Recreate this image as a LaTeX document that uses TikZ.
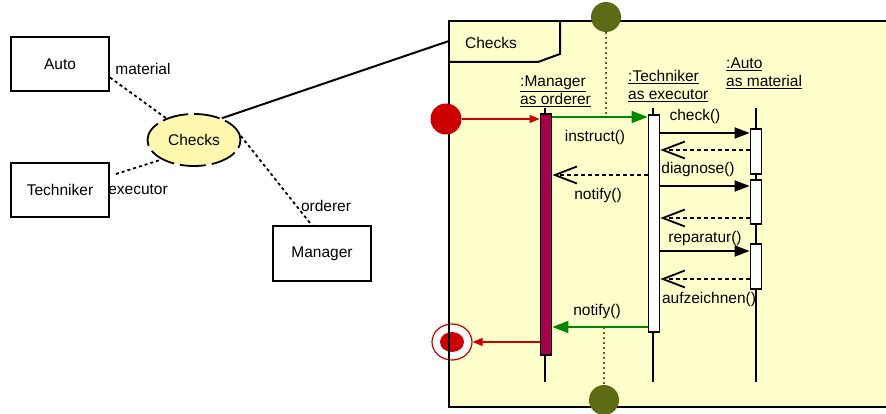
\documentclass[tikz,border=0pt]{standalone}
\usepackage{fontspec}
\setmainfont{Liberation Sans}
\usetikzlibrary{arrows.meta,shapes.geometric,positioning}
\definecolor{framefill}{HTML}{FFFFCC}
\definecolor{usecasefill}{HTML}{FFF7AE}
\definecolor{statered}{HTML}{CC0000}
\definecolor{msggreen}{HTML}{008800}
\definecolor{gateolive}{HTML}{5C6B14}
\definecolor{barred}{HTML}{A8004A}
\tikzset{
  txt/.style={font=\fontsize{15.5}{18}\selectfont,text=black,inner sep=0pt},
  classbox/.style={draw,line width=2pt,minimum width=98pt,minimum height=54pt,txt},
  role/.style={line width=1.8pt,dash pattern=on 3pt off 3pt},
  actbar/.style={draw,line width=1.8pt,minimum width=11pt,inner sep=0pt,anchor=north},
  lifeline/.style={line width=1.4pt},
  call/.style={line width=1.8pt,-{Triangle[length=15pt,width=11pt]}},
  reply/.style={line width=1.8pt,dash pattern=on 4pt off 3pt,-{Straight Barb[length=22pt,width=17pt]}},
  gatemsg/.style={msggreen,line width=1.8pt,-{Triangle[length=16pt,width=12pt]}},
  statemsg/.style={statered,line width=1.3pt,-{Triangle[length=10pt,width=8pt]}},
  gatelink/.style={gateolive,line width=1.4pt,dash pattern=on 2pt off 3pt}
}
\begin{document}
\begin{tikzpicture}[x=1pt,y=-1pt]
\useasboundingbox (0,0) rectangle (886,414);

% use case with its roles
\node[classbox] (auto) at (60,64.5) {Auto};
\node[classbox] (tech) at (60,190) {Techniker};
\node[classbox] (mgr) at (322,253.5) {Manager};
\node[ellipse,draw,fill=usecasefill,line width=1.8pt,dash pattern=on 26pt off 6pt,
      minimum width=93pt,minimum height=52pt,txt] (checks) at (194,140) {Checks};
\draw[role] ([yshift=-13pt]auto.east) -- (checks.142);
\draw[role] ([xshift=6pt,yshift=16pt]tech.east) -- (checks.211);
\draw[role] (checks.5) -- ([xshift=-10pt]mgr.north);
\node[txt] (lmat) at (143,69) {material};
\node[txt] (lexe) at (138,190) {executor};
\node[txt] (lord) at (326,206) {orderer};

% frame
\fill[framefill] (449,21) rectangle (886,407);
\node[ellipse,draw=statered,line width=1.2pt,fill=white,minimum width=40pt,minimum height=36pt,inner sep=0pt] (stop) at (452,342) {};
\node[ellipse,fill=statered,minimum width=24pt,minimum height=20pt,inner sep=0pt] (stopdot) at (stop) {};
\draw[line width=2pt] (886,21) -- (449,21) -- (449,407) -- (886,407);
\draw[line width=2pt] (560,21) -- (560,54) -- (538,62) -- (449,62);
\node[txt] (tab) at (491,43) {Checks};
\coordinate (framelink) at (449,41);
\draw[line width=2pt] (checks.38) -- (framelink);

% lifelines
\node[txt,align=left,anchor=north west] (mgrhead) at (520,76) {\underline{:Manager}\\\underline{as orderer}};
\node[txt,align=left,anchor=north west] (techhead) at (628,70) {\underline{:Techniker}\\\underline{as executor}};
\node[txt,align=left,anchor=north west] (autohead) at (726,58) {\underline{:Auto}\\\underline{as material}};
\foreach \x in {545,653,756}
{
    \draw[lifeline] (\x,108)--(\x,382);
}
\node[actbar,fill=barred,minimum height=241pt] (mbar) at (546,113) {};
\node[actbar,fill=white,minimum height=217pt] (tbar) at (654,114) {};
\foreach \i/\t/\h in {1/128/45,2/179/44,3/243/45}
{
    \node[actbar,fill=white,minimum height=\h pt] (abar\i) at (756,\t) {};
}

% messages
\node[circle,fill=statered,minimum size=31pt,inner sep=0pt] (start) at (446,119) {};
\draw[statemsg] (start.east) -- (mbar.west |- start.east);
\draw[gatemsg] (mbar.east |- 0,117) -- coordinate[pos=0.56] (inhit)
    node[txt,below=12pt,xshift=-5pt]{instruct()} (tbar.west |- 0,117);
\draw[call] (tbar.east |- 0,133) -- node[txt,above=8pt,xshift=-10pt]{check()} (abar1.west |- 0,133);
\draw[reply] (abar1.west |- 0,150) -- (tbar.east |- 0,150);
\draw[reply] (tbar.west |- 0,175) -- node[txt,below=12pt,xshift=-2pt]{notify()} (mbar.east |- 0,175);
\draw[call] (tbar.east |- 0,186) -- node[txt,above=8pt,xshift=-7pt]{diagnose()} (abar2.west |- 0,186);
\draw[reply] (abar2.west |- 0,218) -- (tbar.east |- 0,218);
\draw[call] (tbar.east |- 0,251) -- node[txt,above=4pt]{reparatur()} (abar3.west |- 0,251);
\draw[reply] (abar3.west |- 0,279) -- node[txt,below=12pt,xshift=4pt]{aufzeichnen()} (tbar.east |- 0,279);
\draw[gatemsg] (tbar.west |- 0,327) -- coordinate[pos=0.48] (outhit)
    node[txt,above=7pt,xshift=-3pt]{notify()} (mbar.east |- 0,327);
\draw[statemsg] (mbar.west |- stop) -- (stop.east);

% gates
\node[circle,fill=gateolive,minimum size=30pt,inner sep=0pt] (gatein) at (606,17) {};
\node[circle,fill=gateolive,minimum size=30pt,inner sep=0pt] (gateout) at (604,400) {};
\draw[gatelink] (gatein) -- (gatein |- inhit);
\draw[gatelink] (gateout |- outhit) -- (gateout);

\end{tikzpicture}
\end{document}
